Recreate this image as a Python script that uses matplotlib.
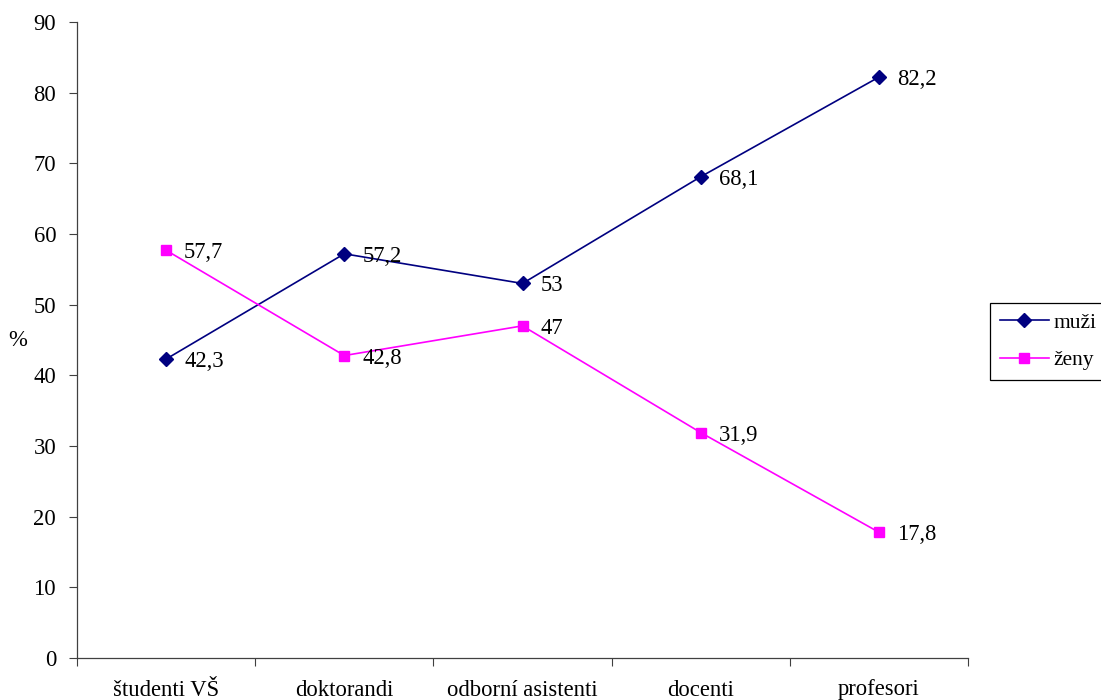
import matplotlib
matplotlib.use("Agg")
import matplotlib.pyplot as plt
from matplotlib.ticker import FixedLocator, NullFormatter

categories = ["študenti VŠ", "doktorandi", "odborní asistenti", "docenti", "profesori"]
muzi = [42.3, 57.2, 53, 68.1, 82.2]
zeny = [57.7, 42.8, 47, 31.9, 17.8]
muzi_labels = ["42,3", "57,2", "53", "68,1", "82,2"]
zeny_labels = ["57,7", "42,8", "47", "31,9", "17,8"]
yticks = [0, 10, 20, 30, 40, 50, 60, 70, 80, 90]

plt.rcParams["font.family"] = ["Liberation Serif", "DejaVu Serif"]
plt.rcParams["font.size"] = 16.3

fig = plt.figure(figsize=(11.01, 7.0), dpi=100)
ax = fig.add_axes([77 / 1101, 42 / 700, (968 - 77) / 1101, (658 - 22) / 700])

x = list(range(len(categories)))
ax.plot(x, muzi, color="#000080", lw=1.2, marker="D", ms=7.5, label="muži")
ax.plot(x, zeny, color="#FF00FF", lw=1.2, marker="s", ms=7.5, label="ženy")

for xi, v, t in zip(x, muzi, muzi_labels):
    ax.annotate(t, (xi, v), xytext=(13, 0), textcoords="offset points",
                ha="left", va="center_baseline")
for xi, v, t in zip(x, zeny, zeny_labels):
    ax.annotate(t, (xi, v), xytext=(13, 0), textcoords="offset points",
                ha="left", va="center_baseline")

ax.set_xlim(-0.5, len(categories) - 0.5)
ax.set_ylim(0, 90)
ax.set_yticks(yticks)
ax.set_yticklabels([str(t) for t in yticks])

ax.xaxis.set_major_locator(FixedLocator([i - 0.5 for i in range(len(categories) + 1)]))
ax.xaxis.set_major_formatter(NullFormatter())
ax.xaxis.set_minor_locator(FixedLocator(x))
ax.set_xticklabels(categories, minor=True)
ax.tick_params(axis="x", which="minor", length=0, pad=27)
ax.tick_params(axis="x", which="major", direction="out", length=6, width=0.8, colors="#404040")
ax.tick_params(axis="y", direction="out", length=6, width=0.8, colors="#404040", pad=9)
for lab in ax.get_yticklabels():
    lab.set_color("black")
for lab in ax.get_xticklabels(minor=True):
    lab.set_color("black")
    lab.set_verticalalignment("baseline")

for s in ("top", "right"):
    ax.spines[s].set_visible(False)
for s in ("left", "bottom"):
    ax.spines[s].set_color("#404040")
    ax.spines[s].set_linewidth(0.9)

fig.text(18 / 1101, 1 - 340 / 700, "%", ha="center", va="center")

leg = fig.legend(loc="upper left", bbox_to_anchor=(990 / 1101, 1 - 303 / 700),
                 frameon=True, fancybox=False, edgecolor="black", framealpha=1,
                 handlelength=2.3, borderpad=0.45, labelspacing=0.8,
                 handletextpad=0.2, borderaxespad=0, fontsize=15.5)
leg.get_frame().set_linewidth(0.9)

fig.savefig("out.png", dpi=100)
